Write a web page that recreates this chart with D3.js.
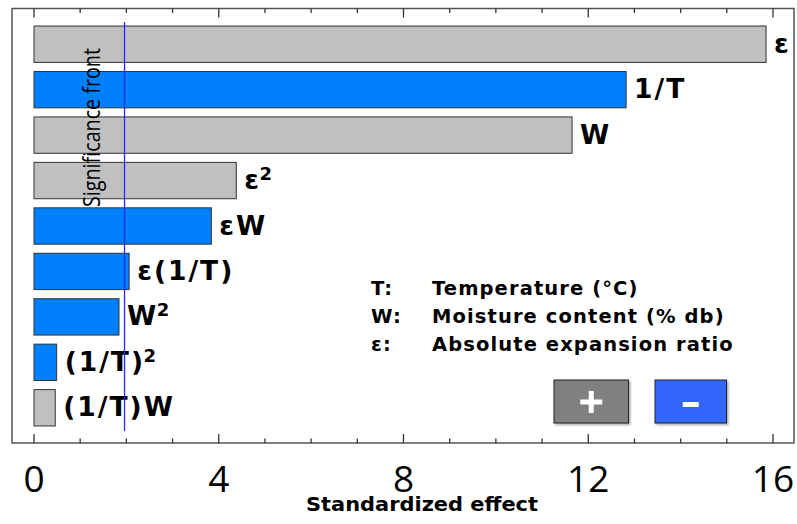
<!DOCTYPE html>
<html><head><meta charset="utf-8">
<script src="https://cdn.jsdelivr.net/npm/d3@7"></script>
<style>body{margin:0;background:#fff}svg{display:block}</style>
</head><body>
<script>
const terms = ["ε","1/T","W","ε²","εW","ε(1/T)","W²","(1/T)²","(1/T)W"];
const effects = [15.85, 12.82, 11.65, 4.38, 3.84, 2.06, 1.84, 0.49, 0.46];
const signs = ["+","-","+","+","-","-","-","-","+"];
const significance = 1.96;
const xTicks = [0,4,8,12,16];
const legendKeys = ["T:","W:","ε:"];
const legendDesc = ["Temperature (°C)","Moisture content (% db)","Absolute expansion ratio"];

const W = 797, H = 524;
const svg = d3.select("body").append("svg").attr("width", W).attr("height", H);
const defs = svg.append("defs");
const f = defs.append("filter").attr("id","sh").attr("x","-20%").attr("y","-20%").attr("width","150%").attr("height","150%");
f.append("feDropShadow").attr("dx",1.5).attr("dy",1.5).attr("stdDeviation",1.2).attr("flood-color","#000").attr("flood-opacity",0.35);

const frame = {l:12, t:8.5, r:794, b:443};
const x = d3.scaleLinear().domain([0,16]).range([34, 773]);
const y = d3.scaleBand().domain(terms).range([21.5, 430.5]).paddingInner(0.2).paddingOuter(0.1);
const color = s => s === "+" ? "#c0c0c0" : "#0080ff";

// frame
svg.append("rect").attr("x",frame.l).attr("y",frame.t).attr("width",frame.r-frame.l).attr("height",frame.b-frame.t)
  .attr("fill","none").attr("stroke","#555").attr("stroke-width",1.5);

// ticks (top and bottom)
const minor = d3.range(0,17,1);
const tg = svg.append("g").attr("stroke","#333").attr("stroke-width",1.3);
minor.forEach(v=>{
  const major = v % 4 === 0;
  const len = major ? 9 : 4.5;
  tg.append("line").attr("x1",x(v)).attr("x2",x(v)).attr("y1",frame.t).attr("y2",frame.t+len);
  tg.append("line").attr("x1",x(v)).attr("x2",x(v)).attr("y1",frame.b).attr("y2",frame.b-len);
});

// bars
svg.append("g").selectAll("rect").data(terms).join("rect")
  .attr("x", x(0)).attr("y", d=>y(d))
  .attr("width", (d,i)=>x(effects[i])-x(0)).attr("height", y.bandwidth())
  .attr("fill", (d,i)=>color(signs[i])).attr("stroke","#333").attr("stroke-width",1);

// bar labels (superscript ² drawn as raised smaller 2)
const labels = svg.append("g").selectAll("text").data(terms).join("text")
  .attr("x",(d,i)=>x(effects[i])+8).attr("y",d=>y(d)+y.bandwidth()/2+8.5)
  .attr("font-family","DejaVu Sans").attr("font-weight","bold").attr("font-size",26.5)
  .attr("letter-spacing",2).attr("fill","#000");
labels.each(function(d){
  const t = d3.select(this);
  if (d.endsWith("²")) {
    t.append("tspan").text(d.slice(0,-1));
    t.append("tspan").attr("font-size",18).attr("dy",-9).attr("dx",-1.5).text("2");
  } else t.text(d);
});

// significance line
svg.append("line").attr("x1",x(significance)).attr("x2",x(significance)).attr("y1",22).attr("y2",431)
  .attr("stroke","#2a2aff").attr("stroke-width",1.3);
svg.append("text").attr("transform",`translate(100,${(48+207)/2}) rotate(-90)`)
  .attr("text-anchor","middle").attr("font-family","Open Sans").attr("font-size",24)
  .attr("textLength",159).attr("lengthAdjust","spacingAndGlyphs").attr("fill","#000").text("Significance front");

// legend text
const lg = svg.append("g").attr("font-family","DejaVu Sans").attr("font-weight","bold").attr("font-size",19.5)
  .attr("letter-spacing",1.1).attr("fill","#000");
legendKeys.forEach((k,i)=>{
  const yy = 295 + i*28;
  lg.append("text").attr("x",371).attr("y",yy).text(k);
  lg.append("text").attr("x",432).attr("y",yy).text(legendDesc[i]);
});

// +/- boxes
const boxes = [{x0:554,x1:628.5,fill:"#808080"},{x0:655,x1:726.5,fill:"#3366ff"}];
boxes.forEach(b=>{
  svg.append("rect").attr("x",b.x0).attr("y",380).attr("width",b.x1-b.x0).attr("height",43)
    .attr("fill",b.fill).attr("stroke","#222").attr("stroke-width",1).attr("filter","url(#sh)");
});
const pc = (554+628.5)/2, pm = (655+726.5)/2;
svg.append("rect").attr("x",pc-11).attr("y",399.5).attr("width",22).attr("height",5).attr("fill","#fff");
svg.append("rect").attr("x",pc-2.5).attr("y",391).attr("width",5).attr("height",22).attr("fill","#fff");
svg.append("rect").attr("x",pm-8).attr("y",402).attr("width",16).attr("height",5).attr("fill","#fff");

// x tick labels
svg.append("g").selectAll("text").data(xTicks).join("text")
  .attr("x",d=>x(d)).attr("y",491.5).attr("text-anchor","middle")
  .attr("font-family","Open Sans").attr("font-size",37).attr("fill","#000").text(d=>d);

// x axis title
svg.append("text").attr("x",422).attr("y",511).attr("text-anchor","middle")
  .attr("font-family","DejaVu Sans").attr("font-weight","bold").attr("font-size",19)
  .attr("textLength",232).attr("lengthAdjust","spacingAndGlyphs").attr("fill","#000")
  .text("Standardized effect");
</script>
</body></html>
